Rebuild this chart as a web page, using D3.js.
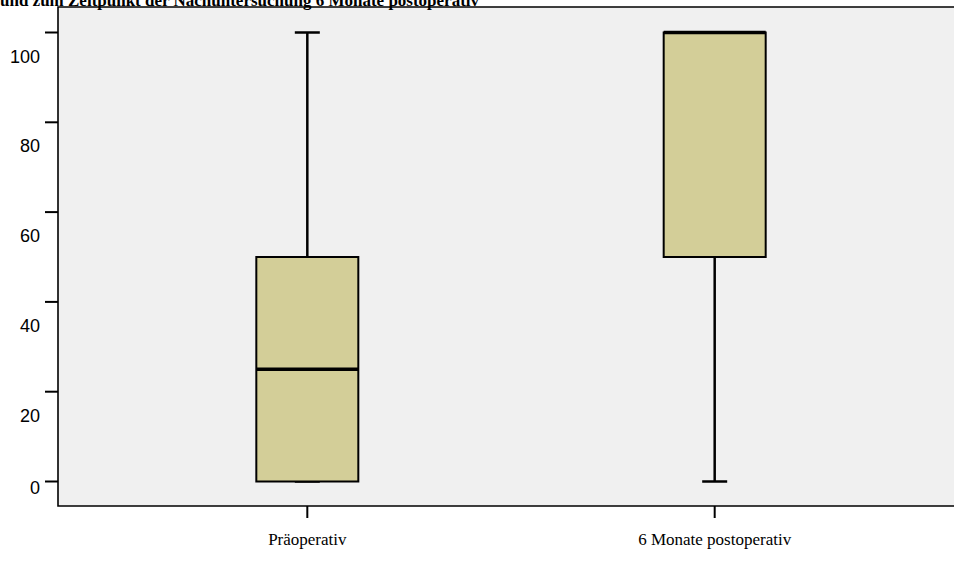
<!DOCTYPE html>
<html>
<head>
<meta charset="utf-8">
<script src="https://cdn.jsdelivr.net/npm/d3@7"></script>
<style>
  body { margin: 0; background: #fff; }
  svg { display: block; }
</style>
</head>
<body>
<svg id="chart"></svg>
<script>
// Boxplot: Präoperativ vs 6 Monate postoperativ

var categories = ["Präoperativ", "6 Monate postoperativ"]
  , whiskerLow  = [0, 0]
  , quartile1   = [0, 50]
  , medians     = [25, 100]
  , quartile3   = [50, 100]
  , whiskerHigh = [100, 100]
  , yTicks      = [0, 20, 40, 60, 80, 100]
  , title       = "und zum Zeitpunkt der Nachuntersuchung 6 Monate postoperativ"
  ;

var width = 954, height = 565
  , plotLeft = 58, plotRight = 964, plotTop = 7, plotBottom = 506
  , boxColor = "#d3ce98"
  ;

var svg = d3.select("#chart")
            .attr("width", width)
            .attr("height", height)
            ;

var x = d3.scalePoint()
          .domain(categories)
          .range([plotLeft, plotRight])
          .padding(0.612)
          ;
var y = d3.scaleLinear()
          .domain([0, 100])
          .range([481.5, 32.5])
          ;
var boxW = 102, capW = 25;

// Plot background
svg.append("rect")
   .attr("x", plotLeft).attr("y", plotTop)
   .attr("width", plotRight - plotLeft).attr("height", plotBottom - plotTop)
   .attr("fill", "#f0f0f0")
   ;

// Frame (top, left, bottom)
svg.append("path")
   .attr("d", "M" + plotRight + "," + plotTop + "H" + plotLeft + "V" + plotBottom + "H" + plotRight)
   .attr("fill", "none")
   .attr("stroke", "#000")
   .attr("stroke-width", 1.6)
   ;

// Title (partly cut off at the top edge)
svg.append("text")
   .attr("x", 0).attr("y", 6)
   .attr("font-family", "'Liberation Serif', 'Times New Roman', serif")
   .attr("font-weight", "bold")
   .attr("font-size", 17)
   .text(title)
   ;

// Y axis ticks + labels (labels sit below their tick, SPSS style)
var yAxis = svg.append("g");
yTicks.forEach(function (t) {
  yAxis.append("line")
       .attr("x1", 45).attr("x2", plotLeft)
       .attr("y1", y(t)).attr("y2", y(t))
       .attr("stroke", "#000").attr("stroke-width", 2)
       ;
  yAxis.append("text")
       .attr("x", 40)
       .attr("y", Math.min(y(t) + 30, 494))
       .attr("text-anchor", "end")
       .attr("font-family", "'Liberation Sans', Arial, sans-serif")
       .attr("font-size", 18)
       .text(t)
       ;
});

// X axis ticks + labels
var xAxis = svg.append("g");
categories.forEach(function (c) {
  xAxis.append("line")
       .attr("x1", x(c)).attr("x2", x(c))
       .attr("y1", plotBottom).attr("y2", 518)
       .attr("stroke", "#000").attr("stroke-width", 2)
       ;
  xAxis.append("text")
       .attr("x", x(c))
       .attr("y", 545)
       .attr("text-anchor", "middle")
       .attr("font-family", "'Liberation Serif', 'Times New Roman', serif")
       .attr("font-size", 17)
       .text(c)
       ;
});

// Boxes
categories.forEach(function (c, i) {
  var cx = x(c), g = svg.append("g");
  // whiskers
  g.append("line")
   .attr("x1", cx).attr("x2", cx)
   .attr("y1", y(quartile3[i])).attr("y2", y(whiskerHigh[i]))
   .attr("stroke", "#000").attr("stroke-width", 2.5);
  g.append("line")
   .attr("x1", cx).attr("x2", cx)
   .attr("y1", y(quartile1[i])).attr("y2", y(whiskerLow[i]))
   .attr("stroke", "#000").attr("stroke-width", 2.5);
  [whiskerLow[i], whiskerHigh[i]].forEach(function (v) {
    g.append("line")
     .attr("x1", cx - capW / 2).attr("x2", cx + capW / 2)
     .attr("y1", y(v)).attr("y2", y(v))
     .attr("stroke", "#000").attr("stroke-width", 2.5);
  });
  // box
  g.append("rect")
   .attr("x", cx - boxW / 2)
   .attr("y", y(quartile3[i]))
   .attr("width", boxW)
   .attr("height", y(quartile1[i]) - y(quartile3[i]))
   .attr("fill", boxColor)
   .attr("stroke", "#000")
   .attr("stroke-width", 2)
   ;
  // median
  g.append("line")
   .attr("x1", cx - boxW / 2).attr("x2", cx + boxW / 2)
   .attr("y1", y(medians[i])).attr("y2", y(medians[i]))
   .attr("stroke", "#000").attr("stroke-width", 3.5);
});
</script>
</body>
</html>
